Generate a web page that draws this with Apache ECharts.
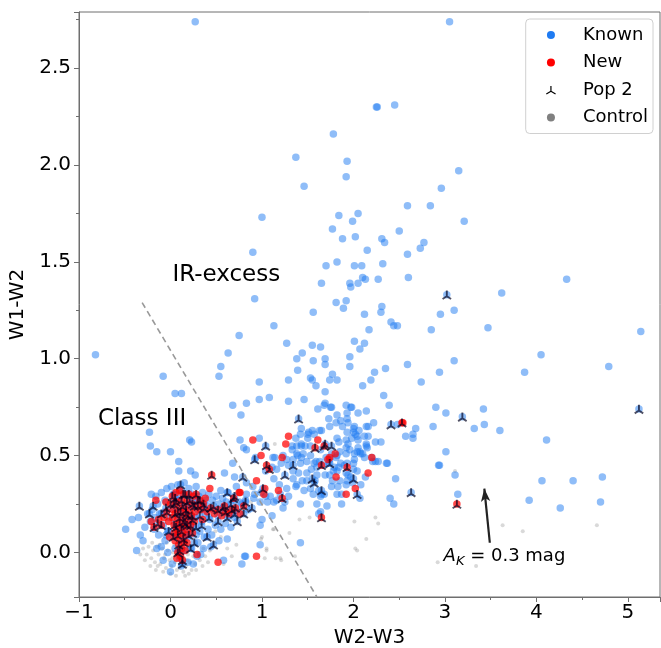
<!DOCTYPE html>
<html><head><meta charset="utf-8">
<script src="https://cdn.jsdelivr.net/npm/echarts@6/dist/echarts.min.js"></script>
<style>html,body{margin:0;padding:0;background:#fff}#c{width:661px;height:648px}</style>
</head><body><div id="c"></div>
<script>
// ---- data (W2-W3, W1-W2) ----
const known = [
[0.27,2.74],[3.05,2.74],[2.25,2.30],[2.26,2.30],[2.45,2.31],[1.78,2.16],[1.37,2.04],[1.93,2.02],[1.92,1.94],[1.46,1.89],[3.15,1.97],[2.96,1.88],[1.00,1.73],[1.84,1.74],[2.05,1.75],[1.99,1.71],[2.59,1.79],[2.84,1.79],[3.21,1.71],[1.77,1.67],[2.02,1.63],[1.88,1.62],[2.50,1.66],[2.31,1.62],[2.34,1.60],[2.77,1.60],[2.73,1.57],[2.15,1.56],[0.90,1.55],[2.59,1.54],[1.70,1.48],[1.82,1.50],[2.01,1.48],[2.09,1.48],[2.32,1.49],[2.10,1.42],[2.13,1.41],[1.65,1.39],[1.96,1.39],[1.97,1.37],[2.05,1.39],[2.27,1.41],[2.60,1.42],[4.33,1.41],[3.62,1.34],[0.92,1.31],[1.81,1.29],[1.92,1.30],[1.89,1.26],[1.56,1.24],[2.12,1.23],[2.31,1.27],[2.30,1.24],[2.95,1.23],[3.10,1.25],[2.41,1.19],[2.44,1.17],[2.48,1.17],[2.17,1.15],[2.85,1.15],[3.47,1.16],[5.14,1.14],[1.13,1.17],[0.75,1.12],[1.27,1.08],[2.01,1.09],[2.12,1.08],[2.07,1.05],[1.55,1.07],[1.64,1.06],[1.44,1.03],[0.63,1.03],[-0.82,1.02],[4.05,1.02],[1.38,1.00],[1.56,0.99],[1.69,1.00],[1.96,1.01],[3.10,0.99],[2.59,0.97],[1.69,0.97],[1.96,0.96],[0.55,0.96],[4.79,0.96],[1.39,0.94],[2.23,0.93],[2.35,0.95],[3.87,0.93],[2.94,0.93],[-0.08,0.91],[0.53,0.91],[1.77,0.92],[1.53,0.90],[1.55,0.89],[1.74,0.89],[1.82,0.89],[2.19,0.89],[1.29,0.89],[0.97,0.88],[2.74,0.88],[1.59,0.86],[2.10,0.86],[1.69,0.83],[0.05,0.82],[0.12,0.82],[2.33,0.81],[1.08,0.80],[0.97,0.79],[1.46,0.79],[1.29,0.78],[0.83,0.77],[1.69,0.77],[2.39,0.76],[0.68,0.76],[1.92,0.76],[1.76,0.75],[1.98,0.75],[2.90,0.75],[1.61,0.74],[3.42,0.74],[0.77,0.71],[1.93,0.72],[2.05,0.72],[2.14,0.73],[1.82,0.71],[3.01,0.72],[1.93,0.69],[1.73,0.69],[1.81,0.67],[2.22,0.67],[1.68,0.76],[1.75,0.75],[1.97,0.75],[1.86,0.68],[1.88,0.65],[1.74,0.65],[1.63,0.63],[1.55,0.63],[1.50,0.61],[1.43,0.64],[2.16,0.65],[2.00,0.64],[1.65,0.63],[1.57,0.61],[1.51,0.62],[1.94,0.67],[2.01,0.65],[2.00,0.62],[1.93,0.62],[2.04,0.60],[1.98,0.59],[2.06,0.63],[2.14,0.65],[2.48,0.66],[3.43,0.66],[2.87,0.65],[3.32,0.64],[3.60,0.63],[2.68,0.64],[-0.23,0.62],[1.42,0.61],[2.57,0.60],[2.65,0.61],[2.65,0.59],[1.50,0.59],[1.37,0.59],[1.82,0.59],[1.84,0.57],[1.92,0.58],[2.02,0.61],[2.05,0.58],[2.12,0.60],[0.21,0.58],[0.23,0.57],[0.97,0.59],[0.76,0.58],[4.11,0.58],[2.30,0.57],[2.24,0.57],
[1.38,0.55],[1.33,0.55],[2.14,0.55],[2.16,0.60],[2.14,0.56],[2.05,0.54],[1.92,0.54],[-0.22,0.55],[-0.15,0.52],[0.00,0.52],[0.80,0.54],[0.83,0.53],[1.43,0.55],[1.53,0.55],[1.64,0.53],[1.33,0.53],[1.38,0.51],[1.43,0.56],[1.47,0.55],[1.53,0.50],[1.96,0.53],[1.94,0.56],[2.04,0.52],[2.08,0.51],[2.15,0.54],[2.07,0.52],[2.01,0.51],[1.85,0.52],[1.82,0.50],[1.76,0.51],[1.92,0.51],[3.01,0.52],[2.10,0.51],[0.93,0.49],[1.14,0.49],[1.23,0.50],[1.21,0.46],[1.27,0.48],[1.34,0.48],[1.42,0.46],[1.43,0.49],[1.49,0.47],[1.59,0.47],[1.63,0.47],[1.70,0.49],[1.81,0.49],[1.73,0.46],[1.90,0.45],[2.00,0.46],[2.21,0.47],[2.27,0.47],[2.37,0.46],[2.36,0.46],[2.24,0.47],[2.93,0.45],[2.94,0.45],[2.01,0.48],[2.12,0.49],[2.20,0.49],[1.86,0.46],[1.93,0.46],[1.74,0.48],[1.57,0.46],[1.45,0.51],[1.39,0.50],[1.12,0.49],[0.09,0.47],[0.09,0.42],[0.22,0.42],[0.27,0.40],[0.59,0.41],[0.68,0.46],[0.70,0.39],[1.04,0.42],[1.11,0.44],[1.16,0.43],[1.29,0.45],[1.34,0.42],[1.40,0.41],[1.49,0.41],[1.60,0.40],[1.54,0.43],[1.60,0.44],[1.67,0.45],[1.79,0.44],[1.82,0.42],[1.84,0.44],[1.78,0.42],[1.69,0.40],[1.74,0.40],[1.94,0.40],[2.00,0.43],[2.04,0.42],[1.92,0.41],[1.97,0.39],[2.46,0.38],[3.11,0.40],[2.13,0.39],[1.77,0.37],[1.85,0.37],[1.92,0.35],[2.08,0.35],[1.93,0.37],[1.99,0.36],[1.83,0.34],[1.76,0.34],[1.58,0.37],[1.49,0.37],[1.44,0.37],[1.34,0.38],[1.38,0.35],[1.37,0.34],[1.13,0.38],[1.19,0.35],[0.72,0.34],[0.83,0.36],[0.90,0.34],[1.27,0.33],[1.46,0.32],[1.53,0.33],[1.62,0.32],[1.56,0.30],[1.65,0.30],[1.68,0.30],[1.82,0.30],[1.87,0.30],[2.07,0.28],[1.64,0.29],[1.29,0.29],[1.25,0.26],[1.13,0.26],[1.06,0.26],[1.04,0.29],[0.92,0.30],[0.91,0.28],[0.98,0.26],[0.82,0.27],[0.83,0.30],[0.78,0.25],[0.99,0.31],[1.09,0.29],[1.20,0.30],[1.16,0.27],[1.23,0.23],[2.40,0.28],[2.44,0.25],[3.14,0.30],[3.92,0.27],[4.06,0.37],[4.40,0.37],[4.72,0.39],[4.26,0.23],[4.70,0.26],[0.85,0.22],[1.42,0.25],[1.60,0.25],[1.71,0.24],[1.64,0.21],[1.87,0.25],[1.62,0.20],[1.00,0.17],[0.98,0.14],[1.11,0.19],[0.98,0.04],[1.42,0.05],[0.82,-0.02],[0.78,-0.06],[0.81,-0.02],[0.58,-0.04],[-0.42,0.17],[-0.49,0.12],[-0.37,0.01],[0.00,-0.10],
[-0.21,0.30],[-0.16,0.29],[-0.14,0.25],[-0.10,0.31],[-0.06,0.27],[-0.04,0.33],[0.01,0.34],[0.03,0.30],[0.08,0.35],[0.12,0.32],[0.15,0.36],[0.20,0.33],[0.24,0.30],[0.28,0.34],[0.31,0.29],[0.35,0.31],[0.38,0.27],[0.42,0.30],[0.46,0.27],[0.50,0.29],[0.53,0.25],[0.57,0.28],[0.61,0.26],[0.65,0.23],[0.69,0.27],[0.72,0.22],[0.75,0.26],[0.70,0.18],[0.64,0.19],[0.58,0.21],[0.52,0.19],[0.47,0.22],[0.43,0.17],[0.38,0.20],[0.34,0.16],[0.30,0.22],[0.27,0.18],[0.25,0.13],[0.32,0.11],[0.37,0.08],[0.41,0.12],[0.45,0.09],[0.49,0.14],[0.55,0.12],[0.60,0.15],[0.66,0.13],[0.62,0.07],[0.53,0.06],[0.44,0.03],[0.36,0.02],[0.30,0.05],[0.29,-0.02],[0.23,0.02],[0.20,0.08],[0.19,-0.05],[0.15,0.01],[0.10,-0.03],[0.05,0.02],[0.02,-0.06],[-0.03,0.00],[-0.06,0.06],[-0.10,0.03],[-0.13,0.09],[-0.18,0.12],[-0.22,0.16],[-0.25,0.20],[-0.20,0.22],[-0.17,0.18],[-0.12,0.20],[-0.08,0.14],[-0.03,0.11],[-0.01,0.18],[0.02,0.23],[0.05,0.15],[0.07,0.09],[0.11,0.13],[0.14,0.21],[0.17,0.25],[0.18,0.16],[0.22,0.24],[0.13,0.06],[0.08,0.27],[-0.06,0.21],[-0.28,0.13],[-0.30,0.06],[-0.15,0.02],[0.25,0.27],[0.40,0.24],[0.55,0.32],[0.63,0.31],[0.35,0.24],[0.12,-0.07],[0.25,-0.06],[0.33,-0.01],[-0.08,-0.04],[0.10,0.28],[0.16,0.10],[-0.05,0.09],[0.28,0.09],[0.04,0.30],[-0.35,0.18],[-0.33,0.09]
];
const newer = [
[0.90,0.58],[1.29,0.60],[1.26,0.56],[0.99,0.50],[1.22,0.49],[1.61,0.58],[1.80,0.51],[1.74,0.49],[1.72,0.48],[2.20,0.49],[2.16,0.41],[1.81,0.39],[0.94,0.37],[1.18,0.32],[1.03,0.33],[1.02,0.30],[0.75,0.31],[1.92,0.30],[2.02,0.33],[2.54,0.67],[0.43,0.33],[0.76,0.31],[-0.16,0.27],[0.94,-0.02],[0.52,-0.05],[0.29,-0.01],
[0.03,0.22],[0.09,0.24],[0.15,0.23],[0.21,0.22],[0.27,0.21],[0.02,0.18],[0.08,0.17],[0.14,0.18],[0.20,0.17],[0.26,0.16],[0.07,0.12],[0.13,0.13],[0.19,0.12],[-0.02,0.16],[-0.07,0.18],[-0.13,0.17],[-0.21,0.16],[0.11,0.07],[0.12,0.02],[0.11,-0.02],[0.07,-0.03],[0.05,0.06],[0.17,0.09],[0.33,0.22],[0.40,0.21],[0.48,0.20],[0.56,0.19],[0.64,0.20],[0.76,0.20],[0.38,0.28],[0.06,0.31],[-0.05,0.26],[0.25,0.29],[0.10,0.32],[0.35,0.17],[0.13,0.10],[0.04,0.10],[-0.01,0.08],[0.16,0.01],[0.18,0.05]
];
const pop2Known = [
[1.40,0.69],[1.04,0.55],[1.76,0.55],[0.92,0.48],[1.34,0.45],[1.25,0.40],[1.55,0.38],[1.57,0.36],[1.65,0.32],[2.00,0.38],[2.04,0.30],[2.41,0.66],[2.63,0.31],[3.19,0.70],[0.79,0.39],[0.62,0.31],[1.01,0.33],[0.89,0.23],[0.80,0.20],[0.82,0.26],[1.69,0.56],[1.74,0.46],[3.02,1.33],[5.12,0.74],[0.47,0.04],[0.34,0.14],[0.70,0.29],
[0.04,0.25],[0.08,0.21],[0.13,0.24],[0.17,0.22],[0.21,0.27],[0.26,0.24],[0.10,0.18],[0.14,0.16],[0.19,0.19],[0.24,0.17],[0.06,0.13],[0.12,0.11],[0.18,0.14],[0.28,0.13],[0.32,0.19],[0.37,0.23],[0.42,0.18],[0.47,0.24],[0.52,0.16],[0.57,0.23],[0.62,0.18],[0.66,0.25],[0.70,0.20],[0.73,0.16],[-0.05,0.23],[-0.10,0.20],[-0.14,0.15],[-0.19,0.24],[-0.23,0.20],[-0.34,0.24],[0.03,0.08],[0.14,0.07],[0.10,0.01],[0.13,-0.06],[0.20,0.09],[0.40,0.08],[0.26,0.05],[0.05,0.28],[0.16,0.30],[0.30,0.27],[0.11,0.35],[-0.02,0.11],[0.22,0.02]
];
const pop2New = [
[1.58,0.54],[1.68,0.55],[1.05,0.45],[1.08,0.43],[1.65,0.45],[1.93,0.44],[1.22,0.28],[0.69,0.28],[1.65,0.18],[3.13,0.25],[0.67,0.22],[0.59,0.24],[2.53,0.67],[0.45,0.40],[0.80,0.24],[0.14,0.30],[0.28,0.30],
[0.00,0.25],[0.06,0.26],[0.12,0.27],[0.18,0.26],[0.24,0.25],[0.30,0.24],[0.05,0.20],[0.11,0.21],[0.17,0.20],[0.23,0.19],[0.04,0.14],[0.10,0.15],[0.16,0.15],[0.22,0.14],[-0.04,0.21],[-0.10,0.14],[-0.18,0.13],[0.08,0.09],[0.09,0.04],[0.08,0.00],[0.13,-0.04],[0.15,0.05],[0.24,0.10],[0.36,0.25],[0.44,0.23],[0.52,0.22],[0.60,0.21],[0.71,0.23],[0.32,0.27],[0.02,0.29],[0.20,0.30]
];
const control = [
[-0.30,0.02],[-0.26,-0.01],[-0.24,0.03],[-0.21,-0.03],[-0.19,0.01],[-0.17,-0.05],[-0.15,0.03],[-0.13,-0.01],[-0.11,-0.06],[-0.09,0.02],[-0.07,-0.03],[-0.05,-0.08],[-0.03,0.01],[-0.01,-0.04],[0.01,-0.07],[0.03,0.00],[0.05,-0.05],[0.07,-0.09],[0.09,-0.02],[0.11,-0.06],[0.13,0.01],[0.15,-0.03],[0.17,-0.07],[0.19,-0.01],[0.21,-0.05],[0.23,-0.09],[0.25,-0.02],[0.27,-0.06],[0.30,0.00],[0.32,-0.04],[0.35,-0.07],[0.38,-0.02],[0.41,-0.05],[-0.28,-0.04],[-0.22,-0.07],[-0.16,-0.09],[-0.08,-0.10],[0.00,-0.11],[0.06,-0.12],[0.14,-0.10],[0.20,-0.11],[0.28,-0.09],[-0.12,0.04],[-0.04,0.05],[0.04,0.04],[0.12,0.05],[0.20,0.03],[0.28,0.04],[-0.20,0.05],[0.36,0.02],[0.43,0.01],[-0.33,-0.01],[0.02,-0.03],[-0.06,-0.01],[0.10,-0.08],[0.18,-0.04],[0.24,0.01],[-0.14,-0.07],[0.08,0.03],[0.16,-0.12],
[0.49,0.11],[0.62,0.02],[0.67,-0.02],[0.72,0.04],[0.99,0.07],[1.05,0.02],[1.12,0.12],[1.20,-0.03],[1.41,0.17],[1.15,-0.03],[1.14,0.56],[2.01,0.16],[2.24,0.18],[2.27,0.15],[2.14,0.07],[2.02,0.02],[2.04,0.01],[2.92,-0.05],[1.05,0.01],[1.03,-0.03],[1.21,-0.04],[1.36,-0.02],[1.00,0.08],[1.13,0.12],[0.88,0.26],[3.63,0.14],[3.85,0.11],[4.66,0.14],[3.34,-0.07],[3.11,0.42],[0.55,0.08],[0.48,0.05],[0.58,-0.06],[1.52,0.18],[1.30,0.10]
];
// class-division line and extinction vector
const divider = [[-0.31,1.29],[1.60,-0.23]];
const extinction = [[3.49,0.05],[3.43,0.33]];
const notes = [
  {text:'IR-excess', at:[0.61,1.43]},
  {text:'Class III', at:[-0.31,0.69]},
  {text:'{a|A}{k|K}{n| = 0.3 mag}', at:[3.65,-0.02]}
];
const xTicks = [-1,0,1,2,3,4,5];
const yTicks = [0,0.5,1,1.5,2,2.5];

const FONT = 'DejaVu Sans';
const AX = '#6f6f6f';
const TRI = 'path://M0,0L0,-10M0,0L-8.66,5M0,0L8.66,5';
const chart = echarts.init(document.getElementById('c'), null, {renderer:'canvas'});
const near = (v, arr) => arr.some(t => Math.abs(t - v) < 1e-6);
chart.setOption({
  animation:false,
  backgroundColor:'#fff',
  grid:{left:79, right:1, top:12, bottom:51, outerBoundsMode:'none', containLabel:false,
    show:true, borderColor:AX, borderWidth:1, backgroundColor:'transparent'},
  xAxis:{type:'value', min:-1, max:5.35, interval:1,
    name:'W2-W3', nameLocation:'middle', nameGap:27,
    nameTextStyle:{fontFamily:FONT, fontSize:20, color:'#000'},
    axisLine:{show:true, onZero:false, lineStyle:{color:AX}},
    axisTick:{show:true, length:5, lineStyle:{color:AX}},
    minorTick:{show:true, splitNumber:2, length:3, lineStyle:{color:AX}},
    splitLine:{show:false},
    axisLabel:{fontFamily:FONT, fontSize:20, color:'#000', margin:6,
      formatter:v => near(v, xTicks) ? (v<0 ? '\u2212'+Math.abs(v) : String(v)) : ''}},
  yAxis:{type:'value', min:-0.23, max:2.79, splitNumber:6,
    name:'W1-W2', nameLocation:'middle', nameGap:44,
    nameTextStyle:{fontFamily:FONT, fontSize:20, color:'#000'},
    axisLine:{show:true, onZero:false, lineStyle:{color:AX}},
    axisTick:{show:true, length:5, lineStyle:{color:AX}},
    minorTick:{show:true, splitNumber:2, length:3, lineStyle:{color:AX}},
    splitLine:{show:false},
    axisLabel:{fontFamily:FONT, fontSize:20, color:'#000', margin:8,
      formatter:v => near(v, yTicks) ? v.toFixed(1) : ''}},
  legend:{orient:'vertical', top:19, right:8, itemWidth:40, itemHeight:8, itemGap:9.5,
    padding:[7,5,7,20], borderColor:'#d0d0d0', borderWidth:1, borderRadius:4,
    backgroundColor:'rgba(255,255,255,0.85)',
    textStyle:{fontFamily:FONT, fontSize:18, color:'#000', lineHeight:18, padding:[0,0,0,7]},
    data:[
      {name:'Known', icon:'circle', itemStyle:{color:'#1f7bf2', opacity:1}},
      {name:'New', icon:'circle', itemStyle:{color:'#ff0000', opacity:1}},
      {name:'Pop 2', icon:TRI, itemStyle:{color:'#000', borderColor:'#000', borderWidth:1.2, opacity:1}},
      {name:'Control', icon:'circle', itemStyle:{color:'#808080', opacity:1}}
    ]},
  series:[
    {name:'Control', type:'scatter', data:control, symbol:'circle', symbolSize:4,
      itemStyle:{color:'#808080', opacity:0.3}, silent:true},
    {name:'Known', type:'scatter', data:known.concat(pop2Known), symbol:'circle', symbolSize:7.5,
      itemStyle:{color:'#1f7bf2', opacity:0.5}, silent:true},
    {name:'New', type:'scatter', data:newer.concat(pop2New), symbol:'circle', symbolSize:7.5,
      itemStyle:{color:'#ff0000', opacity:0.72}, silent:true},
    {name:'Pop 2', type:'scatter', data:pop2Known.concat(pop2New), symbol:TRI, symbolSize:8.5,
      itemStyle:{color:'#000', borderColor:'rgba(0,0,30,0.85)', borderWidth:1.9, opacity:0.8}, silent:true},
    {name:'notes', type:'scatter', symbol:'circle', symbolSize:1, silent:true,
      itemStyle:{color:'rgba(0,0,0,0)'},
      data:notes.map(n => ({value:n.at, label:{formatter:n.text}})),
      label:{show:true, position:'inside', fontFamily:FONT, fontSize:23, color:'#000', opacity:1,
        rich:{a:{fontFamily:FONT, fontSize:18, fontStyle:'italic', lineHeight:24, verticalAlign:'middle'},
              k:{fontFamily:FONT, fontSize:13, fontStyle:'italic', lineHeight:24, verticalAlign:'bottom', padding:[6,0,0,0]},
              n:{fontFamily:FONT, fontSize:18, lineHeight:24, verticalAlign:'middle'}}},
      markLine:{silent:true, symbol:['none','none'], animation:false, label:{show:false},
        data:[
          [{coord:divider[0], lineStyle:{color:'#999', type:[6,4], width:1.6}}, {coord:divider[1]}],
          [{coord:extinction[0], symbol:'none', lineStyle:{color:'#222', type:'solid', width:2.2}},
           {coord:extinction[1], symbol:'arrow', symbolSize:[7,13]}]
        ]}}
  ]
});
</script></body></html>
